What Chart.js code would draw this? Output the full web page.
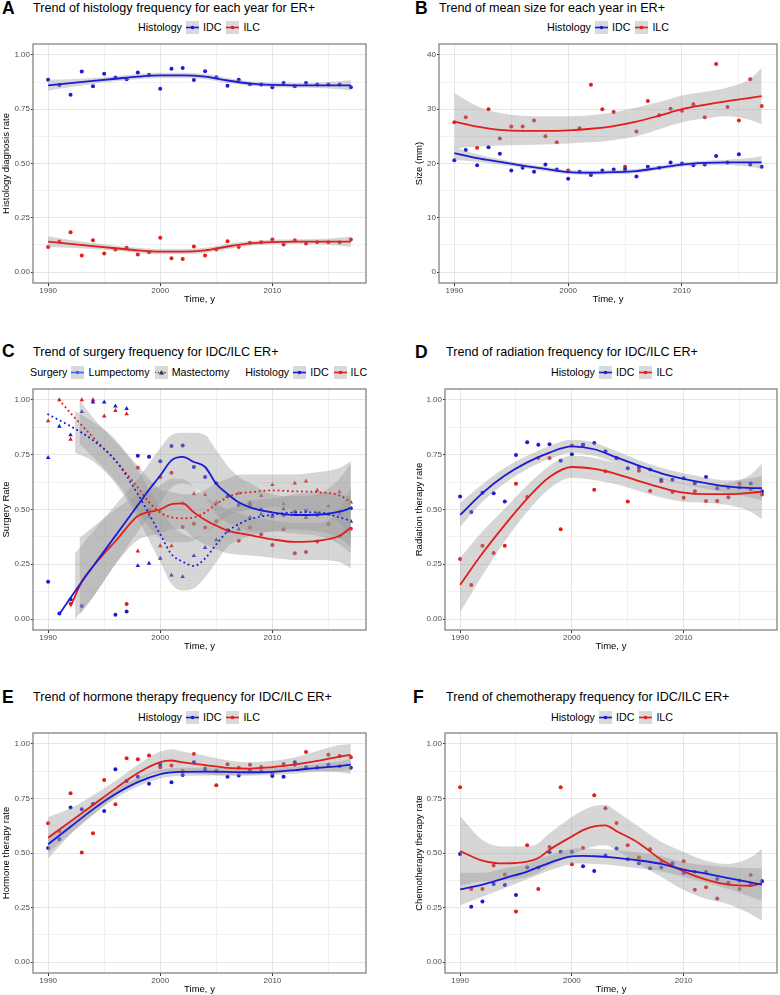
<!DOCTYPE html>
<html>
<head>
<meta charset="utf-8">
<script src="https://cdn.jsdelivr.net/npm/chart.js@4.4.1/dist/chart.umd.min.js"></script>
<style>
body { margin: 0; background: #fff; font-family: "Liberation Sans", Arial, sans-serif; }
#page { position: relative; width: 780px; height: 995px; overflow: hidden; }
.cv { position: absolute; }
.lt { position: absolute; font-weight: bold; font-size: 17.5px; line-height: 18px; }
.tt { position: absolute; font-size: 12.6px; line-height: 14px; white-space: nowrap; }
.lg { position: absolute; font-size: 10.7px; line-height: 14px; white-space: nowrap; display: flex; align-items: center; }
.lg .lgt { margin-right: 4px; }
.lg svg { margin-right: 4px; }
.lg .lgi { margin-right: 5px; }
.lg .gap { display: inline-block; width: 11px; }
</style>
</head>
<body>
<div id="page">
  <div class="lt" style="left:2px;top:-1px">A</div>
  <div class="tt" style="left:33px;top:1px">Trend of histology frequency for each year for ER+</div>
  <div class="lg" id="legA" style="left:138px;top:20px"></div>

  <div class="lt" style="left:415px;top:-1px">B</div>
  <div class="tt" style="left:439px;top:1px">Trend of mean size for each year in ER+</div>
  <div class="lg" id="legB" style="left:547px;top:20px"></div>

  <div class="lt" style="left:2px;top:342px">C</div>
  <div class="tt" style="left:33px;top:345px">Trend of surgery frequency for IDC/ILC ER+</div>
  <div class="lg" id="legC" style="left:30px;top:365px"></div>

  <div class="lt" style="left:415px;top:343px">D</div>
  <div class="tt" style="left:446px;top:345px">Trend of radiation frequency for IDC/ILC ER+</div>
  <div class="lg" id="legD" style="left:551px;top:365px"></div>

  <div class="lt" style="left:2px;top:688px">E</div>
  <div class="tt" style="left:33px;top:690px">Trend of hormone therapy frequency for IDC/ILC ER+</div>
  <div class="lg" id="legE" style="left:138px;top:710px"></div>

  <div class="lt" style="left:413px;top:688px">F</div>
  <div class="tt" style="left:446px;top:690px">Trend of chemotherapy frequency for IDC/ILC ER+</div>
  <div class="lg" id="legF" style="left:551px;top:710px"></div>
</div>
<script>
// years and axis breaks
const years = [1990, 1991, 1992, 1993, 1994, 1995, 1996, 1997, 1998, 1999, 2000, 2001, 2002, 2003,
  2004, 2005, 2006, 2007, 2008, 2009, 2010, 2011, 2012, 2013, 2014, 2015, 2016, 2017];
const xGrid = [1990, 1995, 2000, 2005, 2010, 2015];
const rateGrid = [0, 0.125, 0.25, 0.375, 0.5, 0.625, 0.75, 0.875, 1];
const sizeGrid = [0, 5, 10, 15, 20, 25, 30, 35, 40];

// A - histology rate
const aIdcPts = [0.885, 0.861, 0.816, 0.923, 0.855, 0.913, 0.896, 0.888, 0.919, 0.908, 0.844, 0.936, 0.940, 0.884,
  0.925, 0.897, 0.858, 0.885, 0.865, 0.864, 0.851, 0.871, 0.855, 0.870, 0.864, 0.864, 0.864, 0.851];
const aIlcPts = [0.116, 0.141, 0.184, 0.077, 0.147, 0.086, 0.104, 0.112, 0.081, 0.092, 0.158, 0.064, 0.060, 0.118,
  0.077, 0.104, 0.142, 0.116, 0.135, 0.138, 0.150, 0.127, 0.147, 0.132, 0.138, 0.138, 0.138, 0.150];
const abFitYears = [1990, 1992, 1994, 1996, 1998, 2000, 2002, 2004, 2006, 2008, 2010, 2012, 2014, 2016, 2017];
const aIdcFit = [0.860, 0.870, 0.880, 0.890, 0.900, 0.906, 0.906, 0.900, 0.882, 0.868, 0.862, 0.860, 0.860, 0.860, 0.860];
const aIdcLo = [0.835, 0.852, 0.866, 0.878, 0.888, 0.894, 0.894, 0.888, 0.870, 0.857, 0.851, 0.849, 0.848, 0.842, 0.836];
const aIdcHi = [0.885, 0.888, 0.894, 0.902, 0.912, 0.918, 0.918, 0.912, 0.894, 0.879, 0.873, 0.871, 0.872, 0.878, 0.884];
const aIlcFit = [0.140, 0.130, 0.120, 0.110, 0.100, 0.094, 0.094, 0.100, 0.118, 0.132, 0.138, 0.140, 0.140, 0.140, 0.140];
const aIlcLo = [0.115, 0.112, 0.106, 0.098, 0.088, 0.082, 0.082, 0.088, 0.106, 0.121, 0.127, 0.129, 0.128, 0.122, 0.116];
const aIlcHi = [0.165, 0.148, 0.134, 0.122, 0.112, 0.106, 0.106, 0.112, 0.130, 0.143, 0.149, 0.151, 0.152, 0.158, 0.164];

// B - mean size
const bIdcPts = [20.6, 22.5, 19.7, 23.0, 21.8, 18.7, 19.2, 18.5, 19.8, 18.9, 17.2, 18.5, 17.9, 18.7,
  18.9, 18.9, 17.6, 19.4, 19.2, 20.2, 20.0, 19.7, 19.8, 21.4, 20.2, 21.7, 19.8, 19.4];
const bIlcPts = [27.6, 28.5, 22.9, 30.0, 24.6, 26.8, 26.8, 27.9, 25.0, 23.9, 18.7, 26.5, 34.5, 30.0,
  29.5, 19.4, 25.9, 31.5, 28.9, 30.1, 29.7, 30.9, 28.5, 38.3, 30.4, 27.9, 35.5, 30.6];
const bIdcFit = [21.9, 21.0, 20.3, 19.6, 19.0, 18.4, 18.3, 18.4, 18.6, 19.2, 19.8, 20.1, 20.2, 20.2, 20.2];
const bIdcLo = [20.7, 20.3, 19.8, 19.2, 18.6, 18.0, 17.9, 18.0, 18.2, 18.8, 19.4, 19.7, 19.7, 19.4, 19.0];
const bIdcHi = [23.1, 21.7, 20.8, 20.0, 19.4, 18.8, 18.7, 18.8, 19.0, 19.6, 20.2, 20.5, 20.7, 21.0, 21.4];
const bIlcFit = [27.7, 26.8, 26.2, 26.0, 26.0, 26.1, 26.4, 26.9, 27.7, 28.8, 30.0, 30.8, 31.5, 32.1, 32.4];
const bIlcLo = [22.8, 23.1, 23.3, 23.4, 23.5, 23.7, 23.9, 24.3, 25.0, 26.3, 27.6, 28.3, 28.7, 28.0, 27.2];
const bIlcHi = [33.0, 30.6, 29.3, 28.8, 28.7, 28.7, 28.9, 29.4, 30.3, 31.3, 32.5, 33.2, 34.0, 35.6, 37.6];

// C - surgery
const cIdcLumpPts = [0.17, 0.025, 0.09, 0.06, null, null, 0.02, 0.035, 0.745, 0.741, 0.72, 0.79, 0.792, 0.694,
  0.648, 0.62, 0.56, 0.52, 0.52, 0.50, 0.47, 0.475, 0.49, 0.495, 0.475, 0.48, 0.49, 0.506];
const cIdcMastPts = [0.737, 0.879, 0.84, 0.946, 0.99, 0.99, 0.972, 0.96, 0.243, 0.254, 0.277, 0.20, 0.193, 0.289,
  0.326, 0.361, 0.40, 0.41, 0.464, 0.479, 0.467, 0.502, 0.487, 0.464, 0.482, 0.479, 0.48, 0.446];
const cIlcLumpPts = [null, null, 0.07, null, null, null, null, 0.069, 0.69, 0.50, 0.648, 0.668, 0.42, 0.435,
  0.418, 0.446, 0.406, 0.357, 0.418, 0.387, 0.338, 0.41, 0.30, 0.306, 0.354, 0.433, 0.378, 0.412];
const cIlcMastPts = [0.904, 1.0, 0.82, 1.0, 1.0, 0.926, 0.951, 0.936, 0.31, 0.467, 0.334, 0.334, 0.528, 0.571,
  0.568, 0.531, 0.56, 0.574, 0.533, 0.563, 0.613, 0.525, 0.62, 0.629, 0.587, 0.516, 0.58, 0.533];

const cIdcLumpYears = [1991, 1993, 1995, 1997, 1998, 1999, 2000, 2001, 2002, 2003, 2004, 2005, 2006, 2007, 2008, 2010, 2012, 2014, 2016, 2017];
const cIdcLumpFit = [0.023, 0.17, 0.31, 0.45, 0.52, 0.59, 0.655, 0.724, 0.74, 0.717, 0.694, 0.617, 0.571, 0.533, 0.51, 0.487, 0.475, 0.476, 0.49, 0.507];
const cIdcMastYears = [1990, 1992, 1994, 1996, 1998, 1999, 2000, 2001, 2002, 2003, 2004, 2005, 2006, 2007, 2008, 2010, 2012, 2014, 2016, 2017];
const cIdcMastFit = [0.934, 0.88, 0.816, 0.724, 0.571, 0.479, 0.387, 0.296, 0.262, 0.242, 0.277, 0.341, 0.40, 0.433, 0.456, 0.476, 0.487, 0.487, 0.464, 0.448];
const cIlcLumpYears = [1992, 1993, 1994, 1995, 1996, 1998, 2000, 2001, 2002, 2003, 2004, 2005, 2006, 2008, 2010, 2012, 2014, 2016, 2017];
const cIlcLumpFit = [0.058, 0.17, 0.24, 0.30, 0.355, 0.47, 0.50, 0.525, 0.528, 0.487, 0.452, 0.426, 0.404, 0.383, 0.364, 0.352, 0.357, 0.38, 0.418];
const cIlcMastYears = [1991, 1992, 1994, 1996, 1998, 1999, 2000, 2001, 2002, 2003, 2004, 2005, 2006, 2007, 2008, 2010, 2012, 2014, 2016, 2017];
const cIlcMastFit = [1.0, 0.94, 0.83, 0.724, 0.60, 0.533, 0.487, 0.464, 0.46, 0.464, 0.487, 0.525, 0.556, 0.574, 0.579, 0.587, 0.583, 0.579, 0.564, 0.533];

// C bands (cut where the band left the 0..1 range)
const cIdcLumpBandYears = [1992.4, 1994, 1996, 1998, 1999, 2000, 2001, 2002, 2003, 2004, 2005, 2006, 2007, 2008, 2010, 2012, 2014, 2016, 2017];
const cIdcLumpLo = [0.0, 0.10, 0.25, 0.40, 0.47, 0.53, 0.60, 0.62, 0.60, 0.56, 0.48, 0.44, 0.42, 0.40, 0.40, 0.39, 0.38, 0.34, 0.30];
const cIdcLumpHi = [0.30, 0.40, 0.52, 0.64, 0.71, 0.78, 0.84, 0.85, 0.85, 0.84, 0.77, 0.70, 0.65, 0.62, 0.57, 0.56, 0.57, 0.64, 0.71];
const cIdcMastBandYears = [1992.4, 1994, 1996, 1998, 1999, 2000, 2001, 2002, 2003, 2004, 2005, 2006, 2007, 2008, 2010, 2012, 2014, 2016, 2017];
const cIdcMastLo = [0.76, 0.72, 0.62, 0.46, 0.36, 0.26, 0.16, 0.13, 0.14, 0.19, 0.26, 0.33, 0.36, 0.38, 0.40, 0.41, 0.40, 0.37, 0.33];
const cIdcMastHi = [0.95, 0.90, 0.82, 0.68, 0.59, 0.51, 0.43, 0.39, 0.37, 0.39, 0.45, 0.50, 0.52, 0.54, 0.55, 0.57, 0.58, 0.57, 0.56];
const cIlcLumpBandYears = [1992.8, 1994, 1996, 1998, 2000, 2001, 2002, 2003, 2004, 2005, 2006, 2008, 2010, 2012, 2014, 2016, 2017];
const cIlcLumpLo = [0.02, 0.10, 0.25, 0.36, 0.39, 0.41, 0.41, 0.37, 0.34, 0.32, 0.30, 0.29, 0.28, 0.27, 0.27, 0.26, 0.23];
const cIlcLumpHi = [0.37, 0.42, 0.50, 0.57, 0.61, 0.64, 0.64, 0.60, 0.56, 0.53, 0.50, 0.47, 0.45, 0.44, 0.44, 0.50, 0.60];
const cIlcMastBandYears = [1992.8, 1994, 1996, 1998, 1999, 2000, 2001, 2002, 2003, 2004, 2005, 2006, 2007, 2008, 2010, 2012, 2014, 2016, 2017];
const cIlcMastLo = [0.80, 0.74, 0.63, 0.49, 0.42, 0.37, 0.35, 0.35, 0.36, 0.39, 0.43, 0.47, 0.49, 0.50, 0.51, 0.50, 0.49, 0.44, 0.37];
const cIlcMastHi = [1.0, 0.92, 0.81, 0.70, 0.64, 0.59, 0.58, 0.57, 0.57, 0.59, 0.62, 0.64, 0.66, 0.66, 0.66, 0.66, 0.67, 0.69, 0.72];

// D - radiation
const dIdcPts = [0.559, 0.489, 0.577, 0.574, 0.536, 0.749, 0.807, 0.796, 0.798, 0.723, 0.752, 0.796, 0.804, 0.766,
  0.734, 0.688, 0.692, 0.683, 0.636, 0.636, 0.643, 0.620, 0.648, 0.597, 0.600, 0.600, 0.619, 0.583];
const dIlcPts = [0.274, 0.155, 0.334, 0.302, 0.334, 0.617, 0.557, 0.735, 0.735, 0.410, 0.792, 0.795, 0.590, 0.675,
  0.735, 0.536, 0.677, 0.585, 0.629, 0.580, 0.554, 0.583, 0.539, 0.539, 0.556, 0.619, 0.591, 0.568];
const dFitYears = [1990, 1992, 1994, 1996, 1998, 2000, 2002, 2004, 2006, 2008, 2010, 2012, 2014, 2016, 2017];
const dIdcFit = [0.475, 0.575, 0.655, 0.715, 0.760, 0.788, 0.775, 0.738, 0.700, 0.665, 0.640, 0.620, 0.604, 0.598, 0.597];
const dIdcLo = [0.42, 0.535, 0.62, 0.685, 0.73, 0.758, 0.745, 0.71, 0.675, 0.64, 0.615, 0.595, 0.575, 0.555, 0.54];
const dIdcHi = [0.53, 0.615, 0.69, 0.745, 0.79, 0.818, 0.805, 0.766, 0.725, 0.69, 0.665, 0.645, 0.633, 0.641, 0.654];
const dIlcFit = [0.156, 0.30, 0.43, 0.55, 0.648, 0.694, 0.685, 0.662, 0.63, 0.60, 0.577, 0.57, 0.57, 0.576, 0.582];
const dIlcLo = [0.03, 0.20, 0.355, 0.49, 0.595, 0.645, 0.635, 0.615, 0.585, 0.555, 0.535, 0.53, 0.52, 0.49, 0.456];
const dIlcHi = [0.28, 0.40, 0.505, 0.61, 0.70, 0.745, 0.735, 0.71, 0.675, 0.645, 0.62, 0.61, 0.62, 0.66, 0.71];

// E - hormone therapy
const eIdcPts = [0.523, 0.563, 0.709, 0.70, 0.725, 0.693, 0.884, 0.83, 0.849, 0.817, 0.904, 0.824, 0.858, 0.916,
  0.882, 0.876, 0.849, 0.855, 0.879, 0.875, 0.853, 0.850, 0.916, 0.893, 0.891, 0.904, 0.898, 0.891];
const eIlcPts = [0.636, 0.60, 0.774, 0.502, 0.590, 0.835, 0.723, 0.934, 0.930, 0.947, 0.893, 0.901, 0.876, 0.954,
  0.887, 0.810, 0.907, 0.891, 0.905, 0.894, 0.864, 0.908, 0.904, 0.963, 0.893, 0.950, 0.945, 0.939];
const eFitYears = [1990, 1992, 1994, 1996, 1998, 2000, 2001, 2002, 2004, 2006, 2008, 2010, 2012, 2014, 2016, 2017];
const eIdcFit = [0.54, 0.62, 0.70, 0.77, 0.825, 0.862, 0.870, 0.872, 0.873, 0.872, 0.870, 0.872, 0.880, 0.890, 0.898, 0.905];
const eIdcLo = [0.50, 0.59, 0.675, 0.75, 0.805, 0.842, 0.851, 0.853, 0.855, 0.855, 0.854, 0.856, 0.864, 0.872, 0.876, 0.878];
const eIdcHi = [0.58, 0.65, 0.725, 0.79, 0.845, 0.882, 0.889, 0.891, 0.891, 0.889, 0.886, 0.888, 0.896, 0.908, 0.920, 0.932];
const eIlcFit = [0.57, 0.645, 0.72, 0.795, 0.867, 0.917, 0.924, 0.915, 0.903, 0.890, 0.887, 0.894, 0.905, 0.922, 0.942, 0.950];
const eIlcLo = [0.475, 0.585, 0.675, 0.76, 0.83, 0.87, 0.87, 0.865, 0.86, 0.855, 0.858, 0.865, 0.872, 0.875, 0.87, 0.862];
const eIlcHi = [0.665, 0.705, 0.765, 0.83, 0.905, 0.965, 0.976, 0.965, 0.946, 0.925, 0.916, 0.923, 0.938, 0.968, 0.995, 1.0];

// F - chemotherapy
const fIdcPts = [0.495, 0.254, 0.278, 0.358, 0.353, 0.307, 0.433, 0.434, 0.503, 0.506, 0.506, 0.439, 0.417, 0.488,
  0.521, 0.471, 0.453, 0.430, 0.433, 0.453, 0.408, 0.414, 0.413, 0.381, 0.362, 0.373, 0.355, 0.37];
const fIlcPts = [0.801, 0.335, 0.335, 0.443, 0.401, 0.232, 0.535, 0.335, 0.528, 0.801, 0.448, 0.523, 0.765, 0.705,
  0.638, 0.535, 0.479, 0.517, 0.459, 0.45, 0.462, 0.332, 0.343, 0.292, 0.36, 0.335, 0.399, 0.372];
const fFitYears = [1990, 1992, 1994, 1996, 1997, 1998, 2000, 2001, 2002, 2003, 2004, 2006, 2008, 2010, 2012, 2014, 2016, 2017];
const fIdcFit = [0.333, 0.355, 0.385, 0.415, 0.435, 0.455, 0.485, 0.487, 0.485, 0.482, 0.478, 0.466, 0.45, 0.424, 0.405, 0.385, 0.365, 0.355];
const fIdcLo = [0.26, 0.30, 0.34, 0.38, 0.40, 0.42, 0.45, 0.452, 0.45, 0.447, 0.442, 0.43, 0.415, 0.39, 0.365, 0.335, 0.30, 0.28];
const fIdcHi = [0.41, 0.41, 0.43, 0.45, 0.47, 0.49, 0.52, 0.522, 0.52, 0.517, 0.514, 0.502, 0.485, 0.458, 0.445, 0.435, 0.43, 0.43];
const fIlcFit = [0.509, 0.465, 0.452, 0.460, 0.477, 0.515, 0.576, 0.605, 0.622, 0.627, 0.60, 0.545, 0.469, 0.416, 0.378, 0.355, 0.350, 0.362];
const fIlcLo = [0.35, 0.37, 0.375, 0.39, 0.41, 0.44, 0.49, 0.515, 0.53, 0.535, 0.51, 0.45, 0.39, 0.33, 0.29, 0.265, 0.22, 0.19];
const fIlcHi = [0.67, 0.56, 0.53, 0.53, 0.545, 0.59, 0.665, 0.695, 0.715, 0.72, 0.69, 0.62, 0.55, 0.505, 0.465, 0.45, 0.48, 0.52];

const IDC = '#1b1bd6', ILC = '#e31c1c', BAND = 'rgba(153,153,153,0.4)';

Chart.defaults.font.family = '"Liberation Sans", Arial, sans-serif';

function pts(xs, ys) {
  return xs.map((x, i) => ({ x: x, y: ys[i] }));
}

function pointSet(ys, color, shape) {
  return {
    type: 'scatter', data: pts(years, ys), order: 3,
    pointStyle: shape || 'circle', pointRadius: shape === 'triangle' ? 2.6 : 2,
    backgroundColor: color, borderColor: color, borderWidth: 0
  };
}

function bandSets(xs, lo, hi) {
  const base = { type: 'line', order: 2, pointRadius: 0, borderWidth: 0, borderColor: 'rgba(0,0,0,0)', cubicInterpolationMode: 'monotone' };
  return [
    Object.assign({}, base, { data: pts(xs, lo), fill: false }),
    Object.assign({}, base, { data: pts(xs, hi), fill: '-1', backgroundColor: BAND })
  ];
}

function fitSet(xs, ys, color, dotted) {
  return {
    type: 'line', data: pts(xs, ys), order: 1, fill: false, pointRadius: 0,
    borderColor: color, borderWidth: dotted ? 2 : 1.8, cubicInterpolationMode: 'monotone',
    borderDash: dotted ? [0.1, 4.6] : [], borderCapStyle: dotted ? 'round' : 'butt'
  };
}

const frame = {
  id: 'frame',
  afterDatasetsDraw(chart) {
    const a = chart.chartArea, ctx = chart.ctx;
    ctx.save();
    ctx.strokeStyle = '#7a7a7a';
    ctx.lineWidth = 1.2;
    ctx.strokeRect(a.left, a.top, a.right - a.left, a.bottom - a.top);
    ctx.restore();
  }
};

function makeChart(p) {
  const PT = 5, PR = 3, XH = 22;
  const box = p.box;
  const cv = document.createElement('canvas');
  cv.className = 'cv';
  cv.width = box.r - p.left + PR;
  cv.height = box.b - box.t + PT + XH;
  cv.style.left = p.left + 'px';
  cv.style.top = (box.t - PT) + 'px';
  document.getElementById('page').appendChild(cv);
  const yW = box.l - p.left;
  const yMajor = v => Math.abs(v / p.yStep - Math.round(v / p.yStep)) < 1e-6;
  const xMajor = v => v % 10 === 0;

  return new Chart(cv, {
    type: 'scatter',
    data: { datasets: p.datasets },
    options: {
      responsive: false,
      animation: false,
      events: [],
      layout: { padding: { top: PT, right: PR, left: 0, bottom: 0 } },
      plugins: { legend: { display: false }, tooltip: { enabled: false } },
      scales: {
        x: {
          type: 'linear', min: 1988.65, max: 2018.35,
          afterBuildTicks: s => { s.ticks = xGrid.map(v => ({ value: v })); },
          afterFit: s => { s.height = XH; s.paddingLeft = 0; s.paddingRight = 0; },
          ticks: { autoSkip: false, maxRotation: 0, padding: 0, font: { size: 8 }, color: '#4d4d4d',
            callback: v => xMajor(v) ? String(v) : '' },
          grid: {
            color: c => xMajor(c.tick.value) ? '#e6e6e6' : '#f1f1f1',
            tickColor: c => xMajor(c.tick.value) ? '#333' : 'rgba(0,0,0,0)',
            tickLength: 3
          },
          border: { display: false },
          title: { display: true, text: 'Time, y', font: { size: 9.5 }, color: '#000', padding: 0 }
        },
        y: {
          type: 'linear', min: p.yMin, max: p.yMax,
          afterBuildTicks: s => { s.ticks = p.yGrid.map(v => ({ value: v })); },
          afterFit: s => { s.width = yW; s.paddingTop = 0; s.paddingBottom = 0; },
          ticks: { autoSkip: false, padding: 1, font: { size: 8 }, color: '#4d4d4d',
            callback: v => yMajor(v) ? p.yFmt(v) : '' },
          grid: {
            color: c => yMajor(c.tick.value) ? '#e6e6e6' : '#f1f1f1',
            tickColor: c => yMajor(c.tick.value) ? '#333' : 'rgba(0,0,0,0)',
            tickLength: 2
          },
          border: { display: false },
          title: { display: true, text: p.yTitle, font: { size: 9.5 }, color: '#000', padding: { top: 1, bottom: 0 } }
        }
      }
    },
    plugins: [frame]
  });
}

const rate = v => v.toFixed(2);

makeChart({
  box: { l: 33, t: 44, r: 367, b: 283 }, left: 0,
  yMin: -0.05, yMax: 1.05, yGrid: rateGrid, yStep: 0.25, yFmt: rate, yTitle: 'Histology diagnosis rate',
  datasets: [
    pointSet(aIdcPts, IDC), pointSet(aIlcPts, ILC),
    ...bandSets(abFitYears, aIdcLo, aIdcHi), ...bandSets(abFitYears, aIlcLo, aIlcHi),
    fitSet(abFitYears, aIdcFit, IDC), fitSet(abFitYears, aIlcFit, ILC)
  ]
});

makeChart({
  box: { l: 439, t: 44, r: 778, b: 283 }, left: 413,
  yMin: -2, yMax: 42, yGrid: sizeGrid, yStep: 10, yFmt: v => String(v), yTitle: 'Size (mm)',
  datasets: [
    pointSet(bIdcPts, IDC), pointSet(bIlcPts, ILC),
    ...bandSets(abFitYears, bIdcLo, bIdcHi), ...bandSets(abFitYears, bIlcLo, bIlcHi),
    fitSet(abFitYears, bIdcFit, IDC), fitSet(abFitYears, bIlcFit, ILC)
  ]
});

makeChart({
  box: { l: 33, t: 389, r: 367, b: 630 }, left: 0,
  yMin: -0.05, yMax: 1.05, yGrid: rateGrid, yStep: 0.25, yFmt: rate, yTitle: 'Surgery Rate',
  datasets: [
    pointSet(cIdcLumpPts, IDC), pointSet(cIdcMastPts, IDC, 'triangle'),
    pointSet(cIlcLumpPts, ILC), pointSet(cIlcMastPts, ILC, 'triangle'),
    ...bandSets(cIdcLumpBandYears, cIdcLumpLo, cIdcLumpHi), ...bandSets(cIdcMastBandYears, cIdcMastLo, cIdcMastHi),
    ...bandSets(cIlcLumpBandYears, cIlcLumpLo, cIlcLumpHi), ...bandSets(cIlcMastBandYears, cIlcMastLo, cIlcMastHi),
    fitSet(cIdcLumpYears, cIdcLumpFit, IDC), fitSet(cIdcMastYears, cIdcMastFit, IDC, true),
    fitSet(cIlcLumpYears, cIlcLumpFit, ILC), fitSet(cIlcMastYears, cIlcMastFit, ILC, true)
  ]
});

makeChart({
  box: { l: 445, t: 389, r: 778, b: 630 }, left: 413,
  yMin: -0.05, yMax: 1.05, yGrid: rateGrid, yStep: 0.25, yFmt: rate, yTitle: 'Radiation therapy rate',
  datasets: [
    pointSet(dIdcPts, IDC), pointSet(dIlcPts, ILC),
    ...bandSets(dFitYears, dIdcLo, dIdcHi), ...bandSets(dFitYears, dIlcLo, dIlcHi),
    fitSet(dFitYears, dIdcFit, IDC), fitSet(dFitYears, dIlcFit, ILC)
  ]
});

makeChart({
  box: { l: 33, t: 733, r: 367, b: 973 }, left: 0,
  yMin: -0.05, yMax: 1.05, yGrid: rateGrid, yStep: 0.25, yFmt: rate, yTitle: 'Hormone therapy rate',
  datasets: [
    pointSet(eIdcPts, IDC), pointSet(eIlcPts, ILC),
    ...bandSets(eFitYears, eIdcLo, eIdcHi), ...bandSets(eFitYears, eIlcLo, eIlcHi),
    fitSet(eFitYears, eIdcFit, IDC), fitSet(eFitYears, eIlcFit, ILC)
  ]
});

makeChart({
  box: { l: 445, t: 733, r: 778, b: 973 }, left: 413,
  yMin: -0.05, yMax: 1.05, yGrid: rateGrid, yStep: 0.25, yFmt: rate, yTitle: 'Chemotherapy therapy rate',
  datasets: [
    pointSet(fIdcPts, IDC), pointSet(fIlcPts, ILC),
    ...bandSets(fFitYears, fIdcLo, fIdcHi), ...bandSets(fFitYears, fIlcLo, fIlcHi),
    fitSet(fFitYears, fIdcFit, IDC), fitSet(fFitYears, fIlcFit, ILC)
  ]
});

// legends (ggplot style keys: grey box, line, point)
function keySvg(color, dotted, shape, ptColor) {
  const dash = dotted ? ' stroke-dasharray="0.1 3.2" stroke-linecap="round"' : '';
  const line = '<line x1="0" y1="6.5" x2="13" y2="6.5" stroke="' + color + '" stroke-width="1.6"' + dash + '/>';
  const pt = shape === 'triangle'
    ? '<polygon points="6.5,3.9 9.1,8.4 3.9,8.4" fill="' + ptColor + '"/>'
    : '<circle cx="6.5" cy="6.5" r="1.8" fill="' + ptColor + '"/>';
  return '<svg width="13" height="13"><rect width="13" height="13" fill="#d9d9d9"/>' + line + pt + '</svg>';
}

function legendHtml(groups) {
  return groups.map(g => '<span class="lgt">' + g.title + '</span>' +
    g.items.map(it => keySvg(it.color, it.dotted, it.shape, it.pt) + '<span class="lgi">' + it.label + '</span>').join('')
  ).join('<span class="gap"></span>');
}

const histLegend = [{ title: 'Histology', items: [
  { label: 'IDC', color: IDC, pt: IDC }, { label: 'ILC', color: ILC, pt: ILC }
] }];
['legA', 'legB', 'legD', 'legE', 'legF'].forEach(id => {
  document.getElementById(id).innerHTML = legendHtml(histLegend);
});
document.getElementById('legC').innerHTML = legendHtml([
  { title: 'Surgery', items: [
    { label: 'Lumpectomy', color: '#3366ff', pt: '#3366ff' },
    { label: 'Mastectomy', color: '#333', dotted: true, shape: 'triangle', pt: '#333' }
  ] },
  histLegend[0]
]);
</script>
</body>
</html>
